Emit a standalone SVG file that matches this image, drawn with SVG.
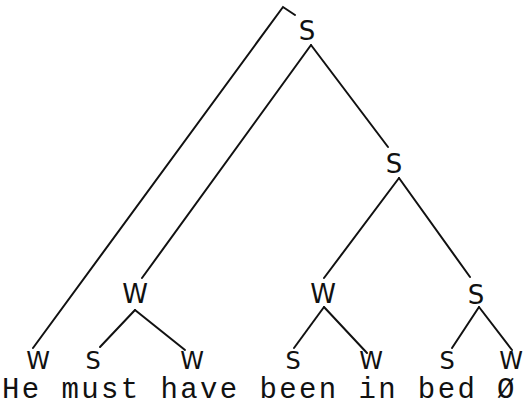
<svg xmlns="http://www.w3.org/2000/svg" width="525" height="406" viewBox="0 0 525 406">
<style>
.lbl{font-family:"DejaVu Sans","Liberation Sans",sans-serif;font-size:26px;fill:#111;text-anchor:middle}
.lf{font-size:24px}
.wd{font-family:"Liberation Mono","Courier New",monospace;font-size:29px;fill:#111;letter-spacing:2.4px}
.e{stroke:#111;stroke-width:2;fill:none;stroke-linecap:round}
</style>
<rect width="525" height="406" fill="#fff"/>
<g id="connectors">
<polyline class="e" points="33,348 283,7 295,15"/>
<line class="e" x1="311" y1="45" x2="142" y2="278"/>
<line class="e" x1="311" y1="45" x2="388" y2="147"/>
<line class="e" x1="399" y1="178" x2="324" y2="278"/>
<line class="e" x1="399" y1="178" x2="470" y2="277"/>
<line class="e" x1="135" y1="310" x2="100" y2="347"/>
<line class="e" x1="135" y1="310" x2="185" y2="350"/>
<line class="e" x1="324" y1="307" x2="294" y2="348"/>
<line class="e" x1="324" y1="307" x2="367" y2="353"/>
<line class="e" x1="479" y1="307" x2="452" y2="348"/>
<line class="e" x1="479" y1="307" x2="512" y2="350"/>
</g>
<g id="n-root"><text class="lbl" x="307" y="40">S</text></g>
<g id="n-s1"><text class="lbl" x="394" y="173">S</text></g>
<g id="n-w1"><text class="lbl" x="135" y="303">W</text></g>
<g id="n-w2"><text class="lbl" x="323" y="303">W</text></g>
<g id="n-s2"><text class="lbl" x="476" y="304">S</text></g>
<g id="n-he"><text class="lbl lf" x="38" y="369">W</text></g>
<g id="n-must"><text class="lbl lf" x="93" y="369">S</text></g>
<g id="n-have"><text class="lbl lf" x="192" y="369">W</text></g>
<g id="n-been"><text class="lbl lf" x="293" y="369">S</text></g>
<g id="n-in"><text class="lbl lf" x="371" y="369">W</text></g>
<g id="n-bed"><text class="lbl lf" x="447" y="369">S</text></g>
<g id="n-null"><text class="lbl lf" x="511" y="369">W</text></g>
<g id="words"><text class="wd" x="2" y="398">He must have been in bed Ø</text></g>
</svg>
